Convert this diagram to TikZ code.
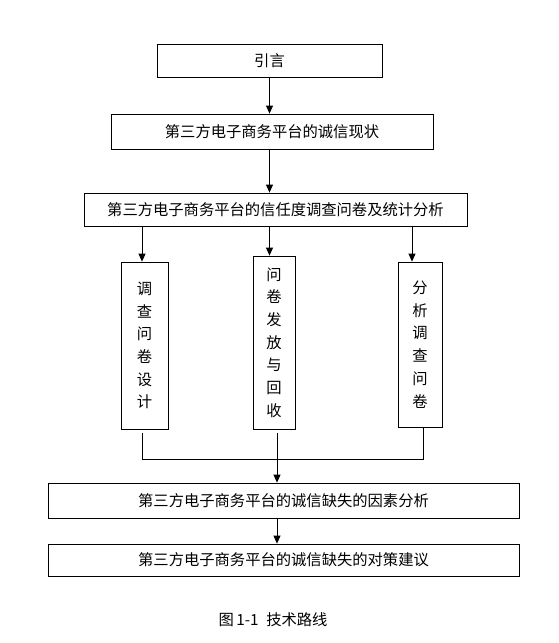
\documentclass[tikz,border=0pt]{standalone}
\usepackage{fontspec}
\newfontfamily\cjk{Noto Sans CJK SC}
\usetikzlibrary{arrows.meta}
\tikzset{
	box/.style={draw, line width=0.8pt, inner sep=0pt, font=\cjk\fontsize{15.3}{18}\selectfont},
	vbox/.style={box, align=center, font=\cjk\fontsize{15.3}{22.7}\selectfont},
	link/.style={line width=0.8pt, -{Triangle[length=8pt,width=7pt]}}
}

\begin{document}
\begin{tikzpicture}[x=1pt,y=-1pt]
			%%%%% START %%%%%
			\useasboundingbox (0,0) rectangle (559,643);
			
			\node[box, minimum width=225, minimum height=33] (intro) at (269.5, 60.5) {引言};
			\node[box, minimum width=322, minimum height=35] (status) at (272, 131.5) {第三方电子商务平台的诚信现状};
			\node[box, minimum width=383, minimum height=33] (survey) at (275.5, 209.5) {第三方电子商务平台的信任度调查问卷及统计分析};
			
			\node[vbox, minimum width=47, minimum height=167] (design) at (144.5, 345.5) {调\\查\\问\\卷\\设\\计};
			\node[vbox, minimum width=42, minimum height=173] (collect) at (274, 342.5) {问\\卷\\发\\放\\与\\回\\收};
			\node[vbox, minimum width=44, minimum height=165] (analyse) at (420, 344.5) {分\\析\\调\\查\\问\\卷};
			
			\node[box, minimum width=471, minimum height=35] (factor) at (283.5, 500.5) {第三方电子商务平台的诚信缺失的因素分析};
			\node[box, minimum width=471, minimum height=32] (plan) at (283.5, 560) {第三方电子商务平台的诚信缺失的对策建议};
			
			\node[font=\cjk\fontsize{15.3}{18}\selectfont] (caption) at (273, 620) {图\,1-1\enspace 技术路线};
			
			% arrows down the top
			\draw[link] (intro) -- (intro |- status.north);
			\draw[link] (intro |- status.south) -- (intro |- survey.north);
			\draw[link] ([xshift=-2.5]design.north |- survey.south) -- ([xshift=-2.5]design.north);
			\draw[link] (intro |- survey.south) -- (intro |- collect.north);
			\draw[link] ([xshift=-8]analyse.north |- survey.south) -- ([xshift=-8]analyse.north);
			
			% merge
			\coordinate (merge) at (277, 459);
			\draw[line width=0.8pt, shorten <=4pt] ([xshift=-2.5]design.south) -- ([xshift=-2.5]design.south |- merge) -- ([xshift=3]analyse.south |- merge) -- ([xshift=3]analyse.south);
			\draw[line width=0.8pt, shorten <=4pt] (merge |- collect.south) -- (merge);
			\draw[link] (merge) -- (merge |- factor.north);
			\draw[link] (merge |- factor.south) -- (merge |- plan.north);
			%%%%% END %%%%%
\end{tikzpicture}
\end{document}
